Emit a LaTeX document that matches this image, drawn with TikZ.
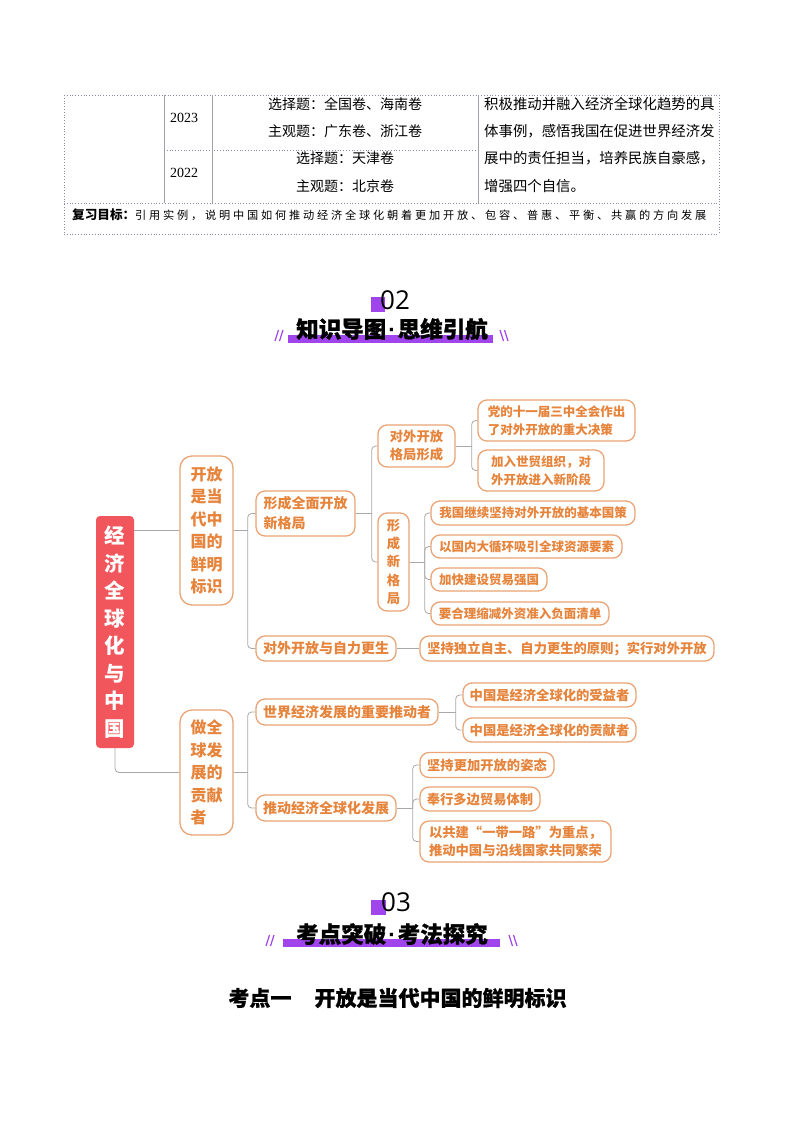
\documentclass[tikz,border=0pt]{standalone}
\usepackage{fontspec}
\newfontfamily\cjk{Noto Sans CJK SC}
\newfontfamily\cjkh[FakeBold=1.2]{Noto Sans CJK SC}
\newfontfamily\cjkt[FakeBold=0.7]{Noto Sans CJK SC}
\newfontfamily\tmr{Liberation Serif}
\newfontfamily\lat{Liberation Sans}
\newfontfamily\dig{Open Sans}
\usetikzlibrary{calc}
\definecolor{ot}{HTML}{E6843C}
\definecolor{ob}{HTML}{EBA475}
\definecolor{rr}{HTML}{F0565B}
\definecolor{gl}{HTML}{A8A8A8}
\definecolor{pp}{HTML}{A045EC}
\definecolor{tl}{HTML}{8A8AA6}
\definecolor{tg}{HTML}{A0A0A8}
\newcommand{\mdot}{{\lat\bfseries\hspace{2pt}\textperiodcentered\hspace{2pt}}}
\tikzset{
  box/.style={draw=ob, line width=1.3pt, rounded corners=9pt, fill=white, text=ot, inner sep=0pt,
    font=\cjk\bfseries\fontsize{13.3}{18}\selectfont},
  bsm/.style={box, font=\cjk\bfseries\fontsize{12.5}{17.5}\selectfont},
  bbig/.style={box, font=\cjk\bfseries\fontsize{14}{20}\selectfont},
  lone/.style={box, rounded corners=12pt, font=\cjk\bfseries\fontsize{16}{22.5}\selectfont, align=left},
  rootbox/.style={fill=rr, rounded corners=4pt, text=white, inner sep=0pt, align=center,
    font=\cjk\bfseries\fontsize{20.5}{27.5}\selectfont},
  conn/.style={draw=gl, line width=0.8pt},
  connr/.style={conn, rounded corners=4pt},
  tdot/.style={draw=tl, line width=0.8pt, dotted},
  tsol/.style={draw=tg, line width=0.8pt},
  ttext/.style={font=\cjk\fontsize{14}{14}\selectfont, inner sep=0pt},
  slash/.style={draw=pp, line width=1.2pt},
  head/.style={inner sep=0pt, font=\cjkh\bfseries\fontsize{22.5}{22.5}\selectfont},
}
\begin{document}
\begin{tikzpicture}[x=1pt,y=-1pt]
\useasboundingbox[fill=white] (0,0) rectangle (793,1122);

% ---------- table ----------
\draw[tdot] (64,95) -- (719,95);
\draw[tdot] (64,95) -- (64,234);
\draw[tdot] (719,95) -- (719,234);
\draw[tdot] (164,150) -- (478,150);
\draw[tdot] (64,203) -- (719,203);
\draw[tdot] (64,234) -- (719,234);
\draw[tsol] (164,95) -- (164,203);
\draw[tsol] (212,95) -- (212,203);
\draw[tsol] (478,95) -- (478,203);
\node[ttext, font=\tmr\fontsize{14}{14}\selectfont] (y23) at (184,118) {2023};
\node[ttext, font=\tmr\fontsize{14}{14}\selectfont] (y22) at (184,173) {2022};
\node[ttext] (t1) at (345,104) {选择题：全国卷、海南卷};
\node[ttext] (t2) at (345,131) {主观题：广东卷、浙江卷};
\node[ttext] (t3) at (345,158) {选择题：天津卷};
\node[ttext] (t4) at (345,186) {主观题：北京卷};
\node[ttext, anchor=west, font=\cjk\fontsize{14.4}{14.4}\selectfont] (r1) at (484,104) {积极推动并融入经济全球化趋势的具};
\node[ttext, anchor=west, font=\cjk\fontsize{14.4}{14.4}\selectfont] (r2) at (484,131) {体事例，感悟我国在促进世界经济发};
\node[ttext, anchor=west, font=\cjk\fontsize{14.4}{14.4}\selectfont] (r3) at (484,158) {展中的责任担当，培养民族自豪感，};
\node[ttext, anchor=west, font=\cjk\fontsize{14.4}{14.4}\selectfont] (r4) at (484,186) {增强四个自信。};
\node[ttext, anchor=west] (goal) at (72,215) {{\bfseries\fontsize{12.6}{12.6}\selectfont 复习目标：}{\fontsize{11.2}{11.2}\selectfont\addfontfeature{LetterSpace=25}引用实例，说明中国如何推动经济全球化朝着更加开放、包容、普惠、平衡、共赢的方向发展}};

% ---------- heading 02 ----------
\fill[pp] (371,297) rectangle (385,312);
\node[inner sep=0pt, font=\dig\fontsize{26}{26}\selectfont] (h2num) at (395,300) {02};
\fill[pp] (288,335) rectangle (493,342.5);
\node[head] (h2) at (392,329) {知识导图\mdot 思维引航};
\draw[slash] (275,341) -- (278.5,330) (279.5,341) -- (283,330);
\draw[slash] (500,330) -- (503.5,341) (504.5,330) -- (508,341);

% ---------- mind map ----------
\node[rootbox, minimum width=38, minimum height=232] (root) at (115,632) {经\\济\\全\\球\\化\\与\\中\\国};

\node[lone, minimum width=53, minimum height=149] (a) at (206.5,530.5) {开放\\是当\\代中\\国的\\鲜明\\标识};
\node[lone, minimum width=53, minimum height=125] (b) at (206.5,772.5) {做全\\球发\\展的\\贡献\\者};

\node[bbig, minimum width=99, minimum height=45, align=left] (c) at (305.5,513.5) {形成全面开放\\新格局};
\node[bbig, minimum width=140, minimum height=25] (d) at (326,648.5) {对外开放与自力更生};
\node[bbig, minimum width=182, minimum height=26] (e) at (347,712) {世界经济发展的重要推动者};
\node[bbig, minimum width=140, minimum height=26] (f) at (326,808) {推动经济全球化发展};

\node[box, minimum width=77, minimum height=42, align=center] (g) at (416.5,446) {对外开放\\格局形成};
\node[box, minimum width=31, minimum height=98, align=center, font=\cjk\bfseries\fontsize{13.3}{18.3}\selectfont] (h) at (393.5,562) {形\\成\\新\\格\\局};
\node[box, minimum width=294, minimum height=25] (i) at (567,648.5) {坚持独立自主、自力更生的原则；实行对外开放};
\node[box, minimum width=173, minimum height=24] (j) at (549.5,695) {中国是经济全球化的受益者};
\node[box, minimum width=173, minimum height=24] (k) at (549.5,730) {中国是经济全球化的贡献者};
\node[box, minimum width=134, minimum height=25] (l) at (487,765) {坚持更加开放的姿态};
\node[box, minimum width=120, minimum height=24] (m) at (480,799) {奉行多边贸易体制};
\node[box, minimum width=191, minimum height=41, align=left] (n) at (515.5,841.5) {以共建“一带一路”为重点，\\推动中国与沿线国家共同繁荣};

\node[bsm, minimum width=157, minimum height=41, align=left] (o) at (556.5,420.5) {党的十一届三中全会作出\\了对外开放的重大决策};
\node[bsm, minimum width=126, minimum height=41, align=left] (p) at (541,470.5) {加入世贸组织，对\\外开放进入新阶段};
\node[bsm, minimum width=204, minimum height=24] (q1) at (533,513) {我国继续坚持对外开放的基本国策};
\node[bsm, minimum width=191, minimum height=23] (q2) at (526.5,546.5) {以国内大循环吸引全球资源要素};
\node[bsm, minimum width=116, minimum height=23] (q3) at (489,579.5) {加快建设贸易强国};
\node[bsm, minimum width=178, minimum height=23] (q4) at (520,613.5) {要合理缩减外资准入负面清单};

% connectors
\draw[conn] (a.west -| root.east) -- (a.west);
\draw[connr] (root.south) |- (b.west);

\draw[conn] (a.east) -- ++(14,0) coordinate (ja);
\draw[connr] (ja) |- (c.west);
\draw[connr] (ja) |- (d.west);

\draw[conn] (c.east) -- ++(16,0) coordinate (jc);
\draw[connr] (jc) |- (g.west);
\draw[connr] (jc) |- (h.west);

\draw[conn] (g.east) -- ++(16,0) coordinate (jg);
\draw[connr] (jg) |- (o.west);
\draw[connr] (jg) |- (p.west);

\draw[conn] (h.east) -- ++(15,0) coordinate (jh);
\draw[connr] (jh) |- (q1.west);
\draw[connr] (jh) |- (q2.west);
\draw[connr] (jh) |- (q3.west);
\draw[connr] (jh) |- (q4.west);

\draw[conn] (d.east) -- (i.west);

\draw[conn] (b.east) -- ++(14,0) coordinate (jb);
\draw[connr] (jb) |- (e.west);
\draw[connr] (jb) |- (f.west);

\draw[conn] (e.east) -- ++(17,0) coordinate (je);
\draw[connr] (je) |- (j.west);
\draw[connr] (je) |- (k.west);

\draw[conn] (f.east) -- ++(16,0) coordinate (jf);
\draw[connr] (jf) |- (l.west);
\draw[connr] (jf) |- (m.west);
\draw[connr] (jf) |- (n.west);

% ---------- heading 03 ----------
\fill[pp] (371,900) rectangle (386,915);
\node[inner sep=0pt, font=\dig\fontsize{26}{26}\selectfont] (h3num) at (396,902) {03};
\fill[pp] (283,938.5) rectangle (500,946.5);
\node[head] (h3) at (392,934) {考点突破\mdot 考法探究};
\draw[slash] (266,946) -- (269.5,935) (270.5,946) -- (274,935);
\draw[slash] (509,935) -- (512.5,946) (513.5,935) -- (517,946);

\node[inner sep=0pt, font=\cjkt\bfseries\fontsize{21}{21}\selectfont] (title) at (397.5,998) {考点一\hspace{1.1em}开放是当代中国的鲜明标识};
\end{tikzpicture}
\end{document}
